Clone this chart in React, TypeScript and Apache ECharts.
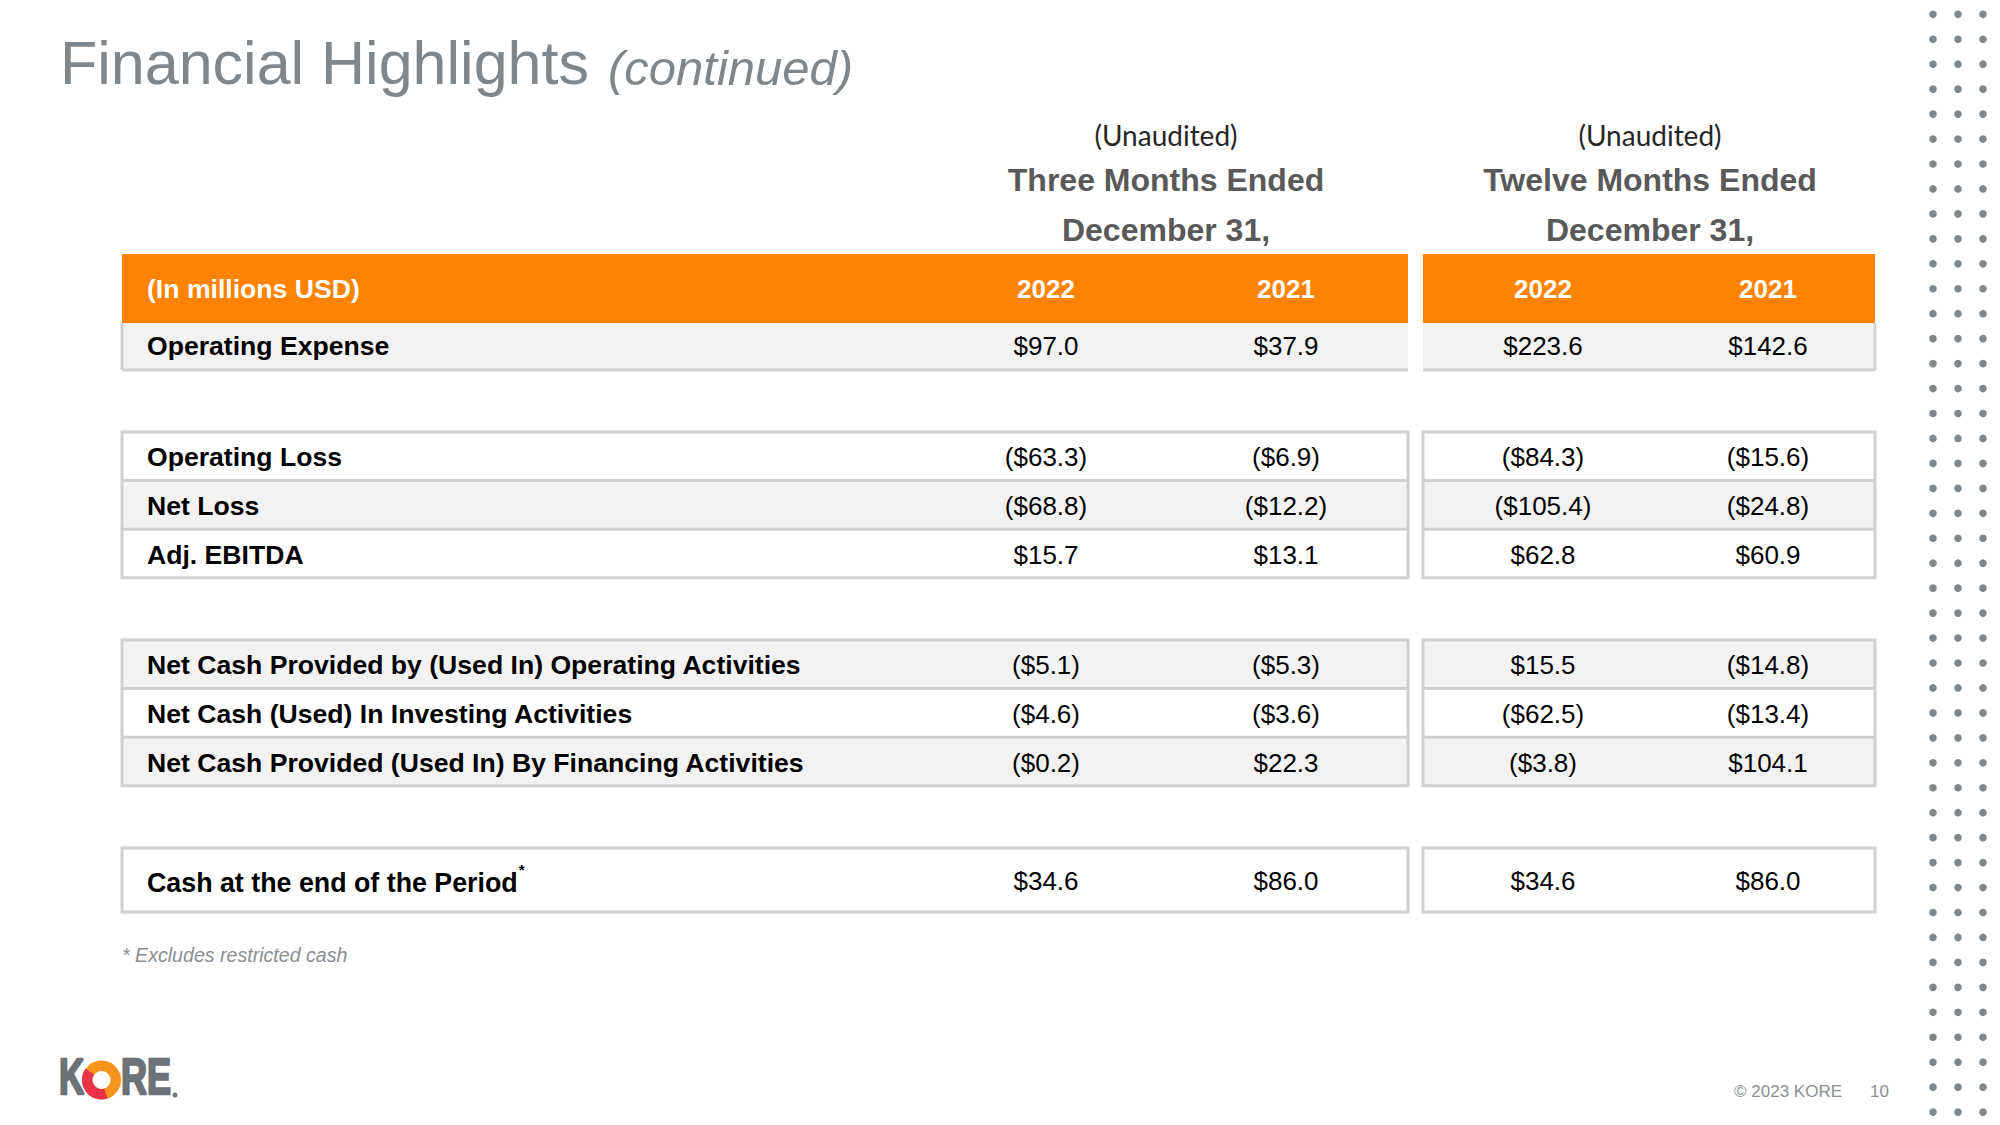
import React, { useEffect, useRef } from "react";
import * as echarts from "echarts";

const titleMain = "Financial Highlights";
const titleSub = "(continued)";
const periodNotes = ["(Unaudited)", "(Unaudited)"];
const periodTitles = [["Three Months Ended", "December 31,"], ["Twelve Months Ended", "December 31,"]];
const headerLabel = "(In millions USD)";
const years = ["2022", "2021", "2022", "2021"];
const rowLabels = [
  "Operating Expense",
  "Operating Loss",
  "Net Loss",
  "Adj. EBITDA",
  "Net Cash Provided by (Used In) Operating Activities",
  "Net Cash (Used) In Investing Activities",
  "Net Cash Provided (Used In) By Financing Activities",
  "Cash at the end of the Period",
];
const q4_2022 = [97.0, -63.3, -68.8, 15.7, -5.1, -4.6, -0.2, 34.6];
const q4_2021 = [37.9, -6.9, -12.2, 13.1, -5.3, -3.6, 22.3, 86.0];
const fy_2022 = [223.6, -84.3, -105.4, 62.8, 15.5, -62.5, -3.8, 34.6];
const fy_2021 = [142.6, -15.6, -24.8, 60.9, -14.8, -13.4, 104.1, 86.0];
const footnote = "* Excludes restricted cash";
const copyright = "\u00A9 2023 KORE";
const pageNo = "10";

const fmt = (v: number) => (v < 0 ? `($${Math.abs(v).toFixed(1)})` : `$${v.toFixed(1)}`);

const FONT = "'Liberation Sans', Arial, sans-serif";
const BORDER = "#d0d0d0";
const GRAYROW = "#f2f2f2";
const ORANGE = "#ff8200";

function buildGraphics() {
  const els: any[] = [];
  const tables = [
    { x0: 122, x1: 1408 },
    { x0: 1423, x1: 1875 },
  ];
  const colX = [1046, 1286, 1543, 1768];
  const cols = [q4_2022, q4_2021, fy_2022, fy_2021];
  const groups = [
    { top: 323, rh: 47, rows: [0] },
    { top: 432, rh: 48.6, rows: [1, 2, 3] },
    { top: 640, rh: 48.6, rows: [4, 5, 6] },
    { top: 848, rh: 64, rows: [7] },
  ];
  const rowBg = ["g", "w", "g", "w", "g", "w", "g", "w"];

  // title
  els.push({
    type: "text", x: 60, y: 93,
    style: { text: titleMain, font: `61px ${FONT}`, fill: "#7f878c", textAlign: "left", textVerticalAlign: "bottom" },
  });
  els.push({
    type: "text", x: 608, y: 92,
    style: { text: titleSub, font: `italic 49px ${FONT}`, fill: "#7f878c", textAlign: "left", textVerticalAlign: "bottom" },
  });

  // period headers
  const centers = [1166, 1650];
  centers.forEach((cx, i) => {
    els.push({ type: "text", x: cx, y: 135, style: { text: periodNotes[i], font: `28px Lato, 'Open Sans', sans-serif`, fill: "#262626", textAlign: "center", textVerticalAlign: "middle" } });
    els.push({ type: "text", x: cx, y: 180, style: { text: periodTitles[i][0], font: `bold 32px ${FONT}`, fill: "#595959", textAlign: "center", textVerticalAlign: "middle" } });
    els.push({ type: "text", x: cx, y: 230, style: { text: periodTitles[i][1], font: `bold 32px ${FONT}`, fill: "#595959", textAlign: "center", textVerticalAlign: "middle" } });
  });

  // orange header
  tables.forEach((t) => {
    els.push({ type: "rect", shape: { x: t.x0, y: 254, width: t.x1 - t.x0, height: 69 }, style: { fill: ORANGE } });
  });
  els.push({ type: "text", x: 147, y: 289, style: { text: headerLabel, font: `bold 26.6px ${FONT}`, fill: "#ffffff", textAlign: "left", textVerticalAlign: "middle" } });
  years.forEach((yr, i) => {
    els.push({ type: "text", x: colX[i], y: 289, style: { text: yr, font: `bold 26px ${FONT}`, fill: "#ffffff", textAlign: "center", textVerticalAlign: "middle" } });
  });

  // rows
  groups.forEach((g, gi) => {
    const bottom = g.top + g.rh * g.rows.length;
    tables.forEach((t, ti) => {
      g.rows.forEach((r, k) => {
        els.push({
          type: "rect",
          shape: { x: t.x0, y: g.top + g.rh * k, width: t.x1 - t.x0, height: g.rh },
          style: { fill: rowBg[r] === "g" ? GRAYROW : "#ffffff" },
        });
        if (k > 0) {
          els.push({ type: "line", shape: { x1: t.x0, y1: g.top + g.rh * k, x2: t.x1, y2: g.top + g.rh * k }, style: { stroke: BORDER, lineWidth: 3 } });
        }
      });
      if (gi === 0) {
        els.push({ type: "line", shape: { x1: t.x0, y1: bottom, x2: t.x1, y2: bottom }, style: { stroke: BORDER, lineWidth: 3 } });
        const sx = ti === 0 ? t.x0 : t.x1;
        els.push({ type: "line", shape: { x1: sx, y1: g.top, x2: sx, y2: bottom }, style: { stroke: BORDER, lineWidth: 3 } });
      } else {
        els.push({ type: "rect", shape: { x: t.x0, y: g.top, width: t.x1 - t.x0, height: bottom - g.top }, style: { fill: "none", stroke: BORDER, lineWidth: 3 } });
      }
    });
    g.rows.forEach((r, k) => {
      const cy = g.top + g.rh * k + g.rh / 2 + (gi === 0 ? -1 : 1);
      if (r === 7) {
        els.push({
          type: "text", x: 147, y: cy - 2,
          style: {
            text: `{a|${rowLabels[r]}}{s|*}`,
            textAlign: "left", textVerticalAlign: "middle",
            rich: {
              a: { font: `bold 26.8px ${FONT}`, fill: "#000000", lineHeight: 34, verticalAlign: "bottom" },
              s: { font: `bold 15px ${FONT}`, fill: "#000000", lineHeight: 34, verticalAlign: "top", padding: [0, 0, 0, 1] },
            },
          },
        });
      } else {
        els.push({ type: "text", x: 147, y: cy, style: { text: rowLabels[r], font: `bold 26.6px ${FONT}`, fill: "#000000", textAlign: "left", textVerticalAlign: "middle" } });
      }
      cols.forEach((c, ci) => {
        els.push({ type: "text", x: colX[ci], y: cy, style: { text: fmt(c[r]), font: `26px ${FONT}`, fill: "#000000", textAlign: "center", textVerticalAlign: "middle" } });
      });
    });
  });

  // footnote
  els.push({ type: "text", x: 122, y: 955, style: { text: footnote, font: `italic 19.6px ${FONT}`, fill: "#8a8f93", textAlign: "left", textVerticalAlign: "middle" } });

  // footer
  els.push({ type: "text", x: 1842, y: 1091, style: { text: copyright, font: `17px ${FONT}`, fill: "#8a8f93", textAlign: "right", textVerticalAlign: "middle" } });
  els.push({ type: "text", x: 1889, y: 1091, style: { text: pageNo, font: `17px ${FONT}`, fill: "#8a8f93", textAlign: "right", textVerticalAlign: "middle" } });

  // dots
  const dotX = [1933, 1958, 1983];
  for (let r = 0; r < 45; r++) {
    dotX.forEach((dx) => {
      els.push({ type: "circle", shape: { cx: dx, cy: 14.3 + r * 24.95, r: 3.8 }, style: { fill: "#7f878c" } });
    });
  }

  // logo
  els.push({ type: "text", x: 59, y: 1102, scaleX: 0.7, style: { text: "K", font: `bold 50px ${FONT}`, fill: "#6d7278", stroke: "#6d7278", lineWidth: 2.5, textAlign: "left", textVerticalAlign: "bottom" } });
  els.push({ type: "ring", shape: { cx: 101.5, cy: 1080, r: 19.5, r0: 9 }, style: { fill: "#f7941d" } });
  els.push({ type: "sector", shape: { cx: 101.5, cy: 1080, r: 19.5, r0: 9, startAngle: Math.PI * 0.4, endAngle: Math.PI * 1.2, clockwise: true }, style: { fill: "#e8334a" } });
  els.push({ type: "text", x: 121, y: 1102, scaleX: 0.72, style: { text: "RE", font: `bold 50px ${FONT}`, fill: "#6d7278", stroke: "#6d7278", lineWidth: 2.5, textAlign: "left", textVerticalAlign: "bottom" } });
  els.push({ type: "circle", shape: { cx: 175, cy: 1095, r: 2.5 }, style: { fill: "#6d7278" } });

  return els;
}

export default function App() {
  const ref = useRef<HTMLDivElement>(null);
  useEffect(() => {
    document.body.style.margin = "0";
    const chart = echarts.init(ref.current!, null, { renderer: "svg" });
    chart.setOption({
      animation: false,
      backgroundColor: "#ffffff",
      graphic: { elements: buildGraphics() },
    });
    return () => chart.dispose();
  }, []);
  return <div ref={ref} style={{ width: 2000, height: 1125 }} />;
}
